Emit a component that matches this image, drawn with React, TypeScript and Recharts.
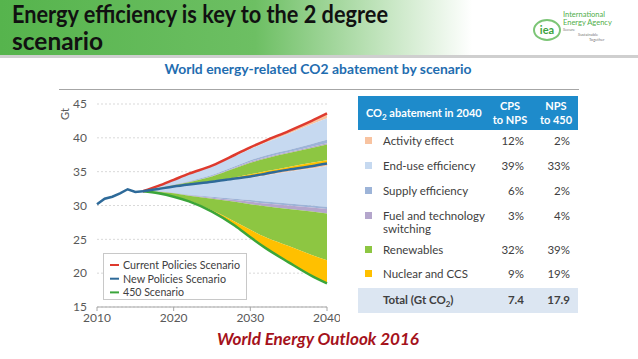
import React from "react";
import { ComposedChart, Area, Line, XAxis, YAxis, CartesianGrid } from "recharts";

// ---------- data ----------
const histYears = [2010, 2011, 2012, 2013, 2014, 2015, 2016];
const histEmissions = [30.2, 31.0, 31.3, 31.8, 32.4, 32.0, 32.1];

const projYears = [2016, 2018, 2020, 2022, 2025, 2028, 2030, 2032, 2035, 2038, 2040];
const currentPolicies = [32.1, 32.9, 33.8, 34.7, 35.9, 37.5, 38.6, 39.6, 41.0, 42.5, 43.6];
const cpsActivityFloor = [32.1, 32.85, 33.7, 34.6, 35.75, 37.3, 38.35, 39.3, 40.6, 42.0, 42.9];
const cpsEndUseFloor = [32.1, 32.6, 33.1, 33.6, 34.5, 35.8, 36.7, 37.4, 38.2, 39.1, 39.7];
const cpsSupplyFloor = [32.1, 32.58, 33.05, 33.5, 34.35, 35.6, 36.45, 37.1, 37.9, 38.7, 39.2];
const cpsFuelFloor = [32.1, 32.57, 33.0, 33.45, 34.3, 35.5, 36.3, 36.95, 37.75, 38.5, 39.0];
const cpsRenewFloor = [32.1, 32.5, 32.83, 33.15, 33.6, 34.15, 34.6, 35.05, 35.7, 36.3, 36.7];
const newPolicies = [32.1, 32.45, 32.8, 33.1, 33.5, 34.0, 34.3, 34.7, 35.3, 35.8, 36.2];
const npsActivityFloor = [32.1, 32.42, 32.75, 33.03, 33.4, 33.85, 34.1, 34.45, 35.0, 35.45, 35.85];
const npsEndUseFloor = [32.1, 32.1, 31.9, 31.6, 31.3, 31.0, 30.8, 30.6, 30.3, 30.0, 29.8];
const npsSupplyFloor = [32.1, 32.08, 31.85, 31.5, 31.15, 30.8, 30.55, 30.3, 30.0, 29.7, 29.5];
const npsFuelFloor = [32.1, 32.05, 31.8, 31.45, 31.0, 30.55, 30.2, 29.9, 29.5, 29.1, 28.8];
const npsRenewFloor = [32.1, 31.85, 31.4, 30.7, 29.3, 27.6, 26.4, 25.3, 24.0, 22.7, 21.9];
const scenario450 = [32.1, 31.8, 31.3, 30.6, 29.1, 27.0, 25.3, 23.7, 21.6, 19.6, 18.5];

const yTicks = [15, 20, 25, 30, 35, 40, 45];
const xTicks = [2010, 2020, 2030, 2040];
const legendLabels = ["Current Policies Scenario", "New Policies Scenario", "450 Scenario"];

const tableLabels = [["Activity effect"], ["End-use efficiency"], ["Supply efficiency"], ["Fuel and technology", "switching"], ["Renewables"], ["Nuclear and CCS"]];
const tableCps = ["12%", "39%", "6%", "3%", "32%", "9%"];
const tableNps = ["2%", "33%", "2%", "4%", "39%", "19%"];
const totalCps = "7.4";
const totalNps = "17.9";

// ---------- styles ----------
const bandColors = ["#F8C3A0", "#C6D9F0", "#9DB4D8", "#B4A6CC", "#8DC642", "#FFC000"];
const lineColors = ["#DE3A2E", "#2E6A99", "#3BA53A"];
const legendWidths = [117, 103, 61];
const rowY = [141, 166, 191, 216, 250, 274];
const FONT = "Lato, 'Open Sans', sans-serif";

const rows: any[] = [];
histYears.forEach((y, i) => {
  if (y !== projYears[0]) rows.push({ year: y, hist: histEmissions[i] });
});
projYears.forEach((y, i) => {
  const r: any = {
    year: y,
    cps: currentPolicies[i],
    cA: cpsActivityFloor[i],
    cE: cpsEndUseFloor[i],
    cS: cpsSupplyFloor[i],
    cF: cpsFuelFloor[i],
    cR: cpsRenewFloor[i],
    nps: newPolicies[i],
    nA: npsActivityFloor[i],
    nE: npsEndUseFloor[i],
    nS: npsSupplyFloor[i],
    nF: npsFuelFloor[i],
    nR: npsRenewFloor[i],
    s450: scenario450[i],
  };
  const hi = histYears.indexOf(y);
  if (hi >= 0) r.hist = histEmissions[hi];
  rows.push(r);
});

const bands = [
  { id: "a1", lo: "cA", hi: "cps", c: 0 },
  { id: "e1", lo: "cE", hi: "cA", c: 1 },
  { id: "s1", lo: "cS", hi: "cE", c: 2 },
  { id: "f1", lo: "cF", hi: "cS", c: 3 },
  { id: "r1", lo: "cR", hi: "cF", c: 4 },
  { id: "n1", lo: "nps", hi: "cR", c: 5 },
  { id: "a2", lo: "nA", hi: "nps", c: 0 },
  { id: "e2", lo: "nE", hi: "nA", c: 1 },
  { id: "s2", lo: "nS", hi: "nE", c: 2 },
  { id: "f2", lo: "nF", hi: "nS", c: 3 },
  { id: "r2", lo: "nR", hi: "nF", c: 4 },
  { id: "n2", lo: "s450", hi: "nR", c: 5 },
];

export default function App() {
  return (
    <div style={{ position: "absolute", left: 0, top: 0, width: 638, height: 359, background: "#fff", overflow: "hidden" }}>
      <svg width={638} height={359} style={{ position: "absolute", left: 0, top: 0 }}>
        <defs>
          <linearGradient id="banner" x1="0" x2="1" y1="0" y2="0">
            <stop offset="0" stopColor="#56B44D" />
            <stop offset="0.4" stopColor="#6DBF63" />
            <stop offset="0.74" stopColor="#FFFFFF" />
            <stop offset="1" stopColor="#FFFFFF" />
          </linearGradient>
        </defs>
        <rect x={0} y={0} width={638} height={55} fill="url(#banner)" />
        <rect x={0} y={55} width={638} height={3} fill="#CFCFCF" />
        <text x={12} y={23} fontFamily={FONT} fontWeight={700} fontSize={24} fill="#111" textLength={376} lengthAdjust="spacingAndGlyphs">
          Energy efficiency is key to the 2 degree
        </text>
        <text x={12} y={50} fontFamily={FONT} fontWeight={700} fontSize={24} fill="#111" textLength={91} lengthAdjust="spacingAndGlyphs">
          scenario
        </text>
        {/* IEA logo */}
        <ellipse cx={547} cy={30} rx={13} ry={10} fill="none" stroke="#7CC576" strokeWidth={2} />
        <text x={547} y={34} textAnchor="middle" fontFamily={FONT} fontWeight={700} fontSize={11} fill="#3DA340">iea</text>
        <text x={563} y={17} fontFamily={FONT} fontSize={7.5} fill="#4FAE4A">International</text>
        <text x={563} y={25} fontFamily={FONT} fontSize={7.5} fill="#4FAE4A">Energy Agency</text>
        <text x={563} y={31} fontFamily={FONT} fontSize={4} fill="#777">Secure</text>
        <text x={578} y={36} fontFamily={FONT} fontSize={4} fill="#777">Sustainable</text>
        <text x={589} y={41} fontFamily={FONT} fontSize={4} fill="#777">Together</text>

        <text x={318} y={74} textAnchor="middle" fontFamily={FONT} fontWeight={700} fontSize={12.5} fill="#1F6DB0" textLength={307} lengthAdjust="spacingAndGlyphs">
          World energy-related CO2 abatement by scenario
        </text>
        <line x1={59} x2={579} y1={89.5} y2={89.5} stroke="#A6A6A6" strokeWidth={1} />
        <text x={318} y={345} textAnchor="middle" fontFamily={FONT} fontWeight={700} fontStyle="italic" fontSize={17} fill="#A5121B" textLength={202} lengthAdjust="spacingAndGlyphs">
          World Energy Outlook 2016
        </text>
        <text x={0} y={0} transform="translate(69,114) rotate(-90)" textAnchor="middle" fontFamily={FONT} fontSize={11} fill="#595959">Gt</text>

        {/* table */}
        <rect x={358} y={96} width={220} height={34} fill="#1E8BCB" />
        <text x={366} y={117} fontFamily={FONT} fontWeight={700} fontSize={11} fill="#fff">
          CO<tspan fontSize={8} dy={3}>2</tspan><tspan dy={-3}> abatement in 2040</tspan>
        </text>
        <text x={510} y={110} textAnchor="middle" fontFamily={FONT} fontWeight={700} fontSize={11} fill="#fff">CPS</text>
        <text x={510} y={124} textAnchor="middle" fontFamily={FONT} fontWeight={700} fontSize={11} fill="#fff">to NPS</text>
        <text x={556} y={110} textAnchor="middle" fontFamily={FONT} fontWeight={700} fontSize={11} fill="#fff">NPS</text>
        <text x={556} y={124} textAnchor="middle" fontFamily={FONT} fontWeight={700} fontSize={11} fill="#fff">to 450</text>
        {tableLabels.map((lines, i) => (
          <g key={i}>
            <rect x={365} y={rowY[i] - 4} width={7} height={7} fill={bandColors[i]} />
            {lines.map((t, j) => (
              <text key={j} x={383} y={rowY[i] + 4 + j * 13} fontFamily={FONT} fontSize={11.5} fill="#404040">{t}</text>
            ))}
            <text x={524} y={rowY[i] + 4} textAnchor="end" fontFamily={FONT} fontSize={11.5} fill="#404040">{tableCps[i]}</text>
            <text x={570} y={rowY[i] + 4} textAnchor="end" fontFamily={FONT} fontSize={11.5} fill="#404040">{tableNps[i]}</text>
          </g>
        ))}
        <rect x={358} y={288} width={220} height={25} fill="#DCE6F2" />
        <text x={383} y={304} fontFamily={FONT} fontWeight={700} fontSize={11.5} fill="#404040">
          Total (Gt CO<tspan fontSize={8} dy={3}>2</tspan><tspan dy={-3}>)</tspan>
        </text>
        <text x={524} y={304} textAnchor="end" fontFamily={FONT} fontWeight={700} fontSize={11.5} fill="#404040">{totalCps}</text>
        <text x={570} y={304} textAnchor="end" fontFamily={FONT} fontWeight={700} fontSize={11.5} fill="#404040">{totalNps}</text>
      </svg>

      <div style={{ position: "absolute", left: 40, top: 95 }}>
        <ComposedChart width={300} height={240} data={rows} margin={{ top: 9, right: 13, bottom: 8, left: 0 }}>
          <CartesianGrid vertical={false} stroke="#D9D9D9" strokeDasharray="2 2" />
          <XAxis
            dataKey="year"
            type="number"
            domain={[2010, 2040]}
            ticks={xTicks}
            height={20}
            tickSize={4}
            tickMargin={2}
            stroke="#A6A6A6"
            tick={{ fill: "#595959", fontSize: 12, fontFamily: FONT }}
          />
          <YAxis
            domain={[15, 45]}
            ticks={yTicks}
            width={57}
            axisLine={false}
            tickLine={false}
            tickSize={0}
            tickMargin={10}
            tick={{ fill: "#595959", fontSize: 12, fontFamily: FONT }}
          />
          {bands.map((b) => (
            <Area
              key={b.id}
              type="monotone"
              dataKey={(d: any) => (d[b.lo] === undefined ? null : [d[b.lo], d[b.hi]])}
              stroke="none"
              fill={bandColors[b.c]}
              fillOpacity={1}
              isAnimationActive={false}
              dot={false}
              activeDot={false}
            />
          ))}
          <Line type="monotone" dataKey="s450" stroke={lineColors[2]} strokeWidth={2.5} dot={false} isAnimationActive={false} />
          <Line type="monotone" dataKey="cps" stroke={lineColors[0]} strokeWidth={2.5} dot={false} isAnimationActive={false} />
          <Line type="monotone" dataKey="nps" stroke={lineColors[1]} strokeWidth={2.5} dot={false} isAnimationActive={false} />
          <Line type="linear" dataKey="hist" stroke={lineColors[1]} strokeWidth={2.5} dot={false} isAnimationActive={false} />
        </ComposedChart>
      </div>

      <svg width={638} height={359} style={{ position: "absolute", left: 0, top: 0, pointerEvents: "none" }}>
        <rect x={103.5} y={253.5} width={143} height={46} fill="#fff" stroke="#C8C8C8" />
        {legendLabels.map((l, i) => (
          <g key={l}>
            <line x1={110} x2={119} y1={265 + i * 13.7} y2={265 + i * 13.7} stroke={lineColors[i]} strokeWidth={2} />
            <text x={123} y={269 + i * 13.7} fontFamily={FONT} fontSize={12} fill="#404040" textLength={legendWidths[i]} lengthAdjust="spacingAndGlyphs">{l}</text>
          </g>
        ))}
      </svg>
    </div>
  );
}
